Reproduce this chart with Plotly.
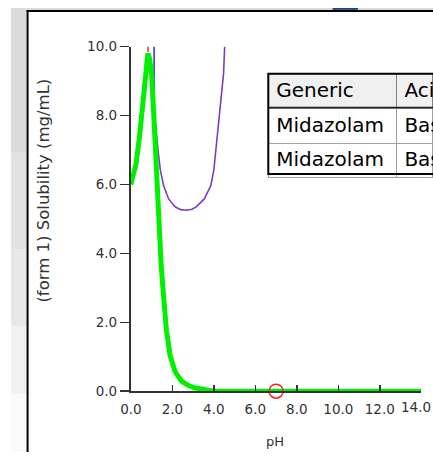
import plotly.graph_objects as go

W, H = 433, 460

# ---- data ----
form1_ph = [0.0, 0.25, 0.41, 0.56, 0.69, 0.76, 0.82, 0.9, 1.0, 1.08, 1.17, 1.24, 1.3, 1.36, 1.46,
            1.58, 1.71, 1.89, 2.13, 2.44, 2.75, 3.07, 3.4, 3.7, 3.95, 4.0, 14.0]
form1_sol = [6.0, 6.6, 7.35, 8.3, 9.05, 9.5, 9.8, 9.65, 9.2, 8.3, 7.0, 6.1, 5.6, 5.0, 3.66,
             2.72, 1.79, 1.04, 0.57, 0.29, 0.17, 0.1, 0.07, 0.05, 0.04, 0.0, 0.0]

form2_ph = [1.12, 1.2, 1.31, 1.42, 1.58, 1.82, 2.13, 2.4, 2.68, 2.95, 3.15, 3.54, 3.85, 4.0,
            4.16, 4.32, 4.47, 4.52]
form2_sol = [8.2, 7.6, 6.98, 6.42, 5.96, 5.58, 5.35, 5.27, 5.25, 5.28, 5.35, 5.58, 5.96, 6.42,
             7.36, 8.29, 9.23, 10.0]

blue_ph = [1.12, 1.12]
blue_sol = [10.0, 8.2]
red_ph = [0.83, 0.83]
red_sol = [10.0, 9.85]

point_ph = [7.0]
point_sol = [0.0]

x_ticks = [0, 2, 4, 6, 8, 10, 12, 14]
y_ticks = [0, 2, 4, 6, 8, 10]

table_header = ["Generic", "Acid/Base"]
table_generic = ["Midazolam", "Midazolam"]
table_acidbase = ["Base", "Base"]

# ---- layout geometry (pixels) ----
L, R, T, B = 123, 421, 40, 397


def px(x):
    return x / W


def py(y):
    return 1 - y / H


fig = go.Figure()

fig.add_trace(go.Scatter(x=form2_ph, y=form2_sol, mode="lines",
                         line=dict(color="#7b3cc6", width=1.6), showlegend=False))
fig.add_trace(go.Scatter(x=blue_ph, y=blue_sol, mode="lines",
                         line=dict(color="#3838f0", width=1.6), showlegend=False))
fig.add_trace(go.Scatter(x=form1_ph, y=form1_sol, mode="lines",
                         line=dict(color="#00f000", width=5), showlegend=False))
fig.add_trace(go.Scatter(x=red_ph, y=red_sol, mode="lines",
                         line=dict(color="#d03040", width=1.5), showlegend=False))
fig.add_trace(go.Scatter(x=point_ph, y=point_sol, mode="markers",
                         marker=dict(symbol="circle-open", size=14, color="#ff2020",
                                     line=dict(width=1.5, color="#ff2020")),
                         cliponaxis=False, showlegend=False))

fig.add_trace(go.Table(
    domain=dict(x=[px(264), 1.0], y=[py(180), py(68)]),
    columnwidth=[132, 37],
    header=dict(values=table_header, fill_color="#f0f0f0", height=35, align="left",
                line=dict(color="#808080", width=1),
                font=dict(family="DejaVu Sans", size=20, color="#000000")),
    cells=dict(values=[table_generic, table_acidbase], fill_color="#ffffff", height=34.5,
               align="left", line=dict(color="#a0a0a0", width=1),
               font=dict(family="DejaVu Sans", size=20, color="#000000")),
))

tickfont = dict(family="DejaVu Sans", size=13.5, color="#333333")

# the last x tick label would run past the page edge, so it is placed as a
# right-anchored annotation at the same axis value
x_ticktext = [f"{v:.1f}" for v in x_ticks[:-1]] + [""]

fig.update_layout(
    width=W, height=H,
    margin=dict(l=0, r=0, t=0, b=0),
    paper_bgcolor="#ffffff", plot_bgcolor="#ffffff",
    xaxis=dict(domain=[px(L), px(R)], range=[0, 14], tickvals=x_ticks, ticktext=x_ticktext,
               showgrid=False, zeroline=False, showline=True, linecolor="#333333",
               linewidth=2, ticks="inside", ticklen=6, tickwidth=1.5, tickcolor="#333333",
               tickfont=tickfont, ticklabelstandoff=5, fixedrange=True),
    yaxis=dict(domain=[py(B), py(T)], range=[0, 10], tickvals=y_ticks, tickformat=".1f",
               showgrid=False, zeroline=False, showline=True, linecolor="#333333",
               linewidth=2, ticks="outside", ticklen=9, tickwidth=1.5, tickcolor="#333333",
               tickfont=tickfont, fixedrange=True),
    annotations=[
        dict(text=f"{x_ticks[-1]:.1f}", xref="x", yref="paper", x=x_ticks[-1], y=py(B),
             xanchor="right", yanchor="top", xshift=12, yshift=-6, showarrow=False,
             font=tickfont),
        dict(text="pH", xref="paper", yref="paper", x=px(271), y=py(449), showarrow=False,
             font=dict(family="DejaVu Sans", size=13, color="#333333"),
             xanchor="center", yanchor="middle"),
        dict(text="(form 1) Solubility (mg/mL)", xref="paper", yref="paper", x=px(33),
             y=py(189), showarrow=False, textangle=-90,
             font=dict(family="DejaVu Sans", size=16.5, color="#333333"),
             xanchor="center", yanchor="middle"),
    ],
)

shapes = []
# left background strip (light gray gradient to white)
bands = [(0, 150, "#d9dbdd"), (150, 250, "#dfe1e2"), (250, 330, "#e7e8e9"),
         (330, 400, "#f1f1f2"), (400, 460, "#fafafa")]
for y0, y1, c in bands:
    shapes.append(dict(type="rect", xref="paper", yref="paper", x0=px(0), x1=px(16),
                       y0=py(y1), y1=py(y0), fillcolor=c, line=dict(width=0), layer="below"))
# top strip
shapes.append(dict(type="rect", xref="paper", yref="paper", x0=px(16), x1=px(433),
                   y0=py(2), y1=py(0), fillcolor="#d8dadc", line=dict(width=0), layer="below"))
shapes.append(dict(type="rect", xref="paper", yref="paper", x0=px(330), x1=px(356),
                   y0=py(2), y1=py(0), fillcolor="#1d4a7a", line=dict(width=0), layer="below"))
# window borders
shapes.append(dict(type="line", xref="paper", yref="paper", x0=px(17), x1=px(17),
                   y0=py(460), y1=py(2), line=dict(color="#000000", width=2)))
shapes.append(dict(type="line", xref="paper", yref="paper", x0=px(16), x1=px(433),
                   y0=py(3), y1=py(3), line=dict(color="#000000", width=2)))
# table outer border (left, top, bottom) and header separator
shapes.append(dict(type="path", xref="paper", yref="paper",
                   path=(f"M {px(433)},{py(68)} L {px(264)},{py(68)} "
                         f"L {px(264)},{py(172)} L {px(433)},{py(172)}"),
                   line=dict(color="#000000", width=2)))
shapes.append(dict(type="line", xref="paper", yref="paper", x0=px(264), x1=px(433),
                   y0=py(103), y1=py(103), line=dict(color="#202020", width=1.5)))
fig.update_layout(shapes=shapes)

fig.write_html(
    "out.html",
    config={"displayModeBar": False, "staticPlot": True},
    post_script=(
        "document.documentElement.style.overflow='hidden';"
        "document.body.style.margin='0';document.body.style.overflow='hidden';"
    ),
)
